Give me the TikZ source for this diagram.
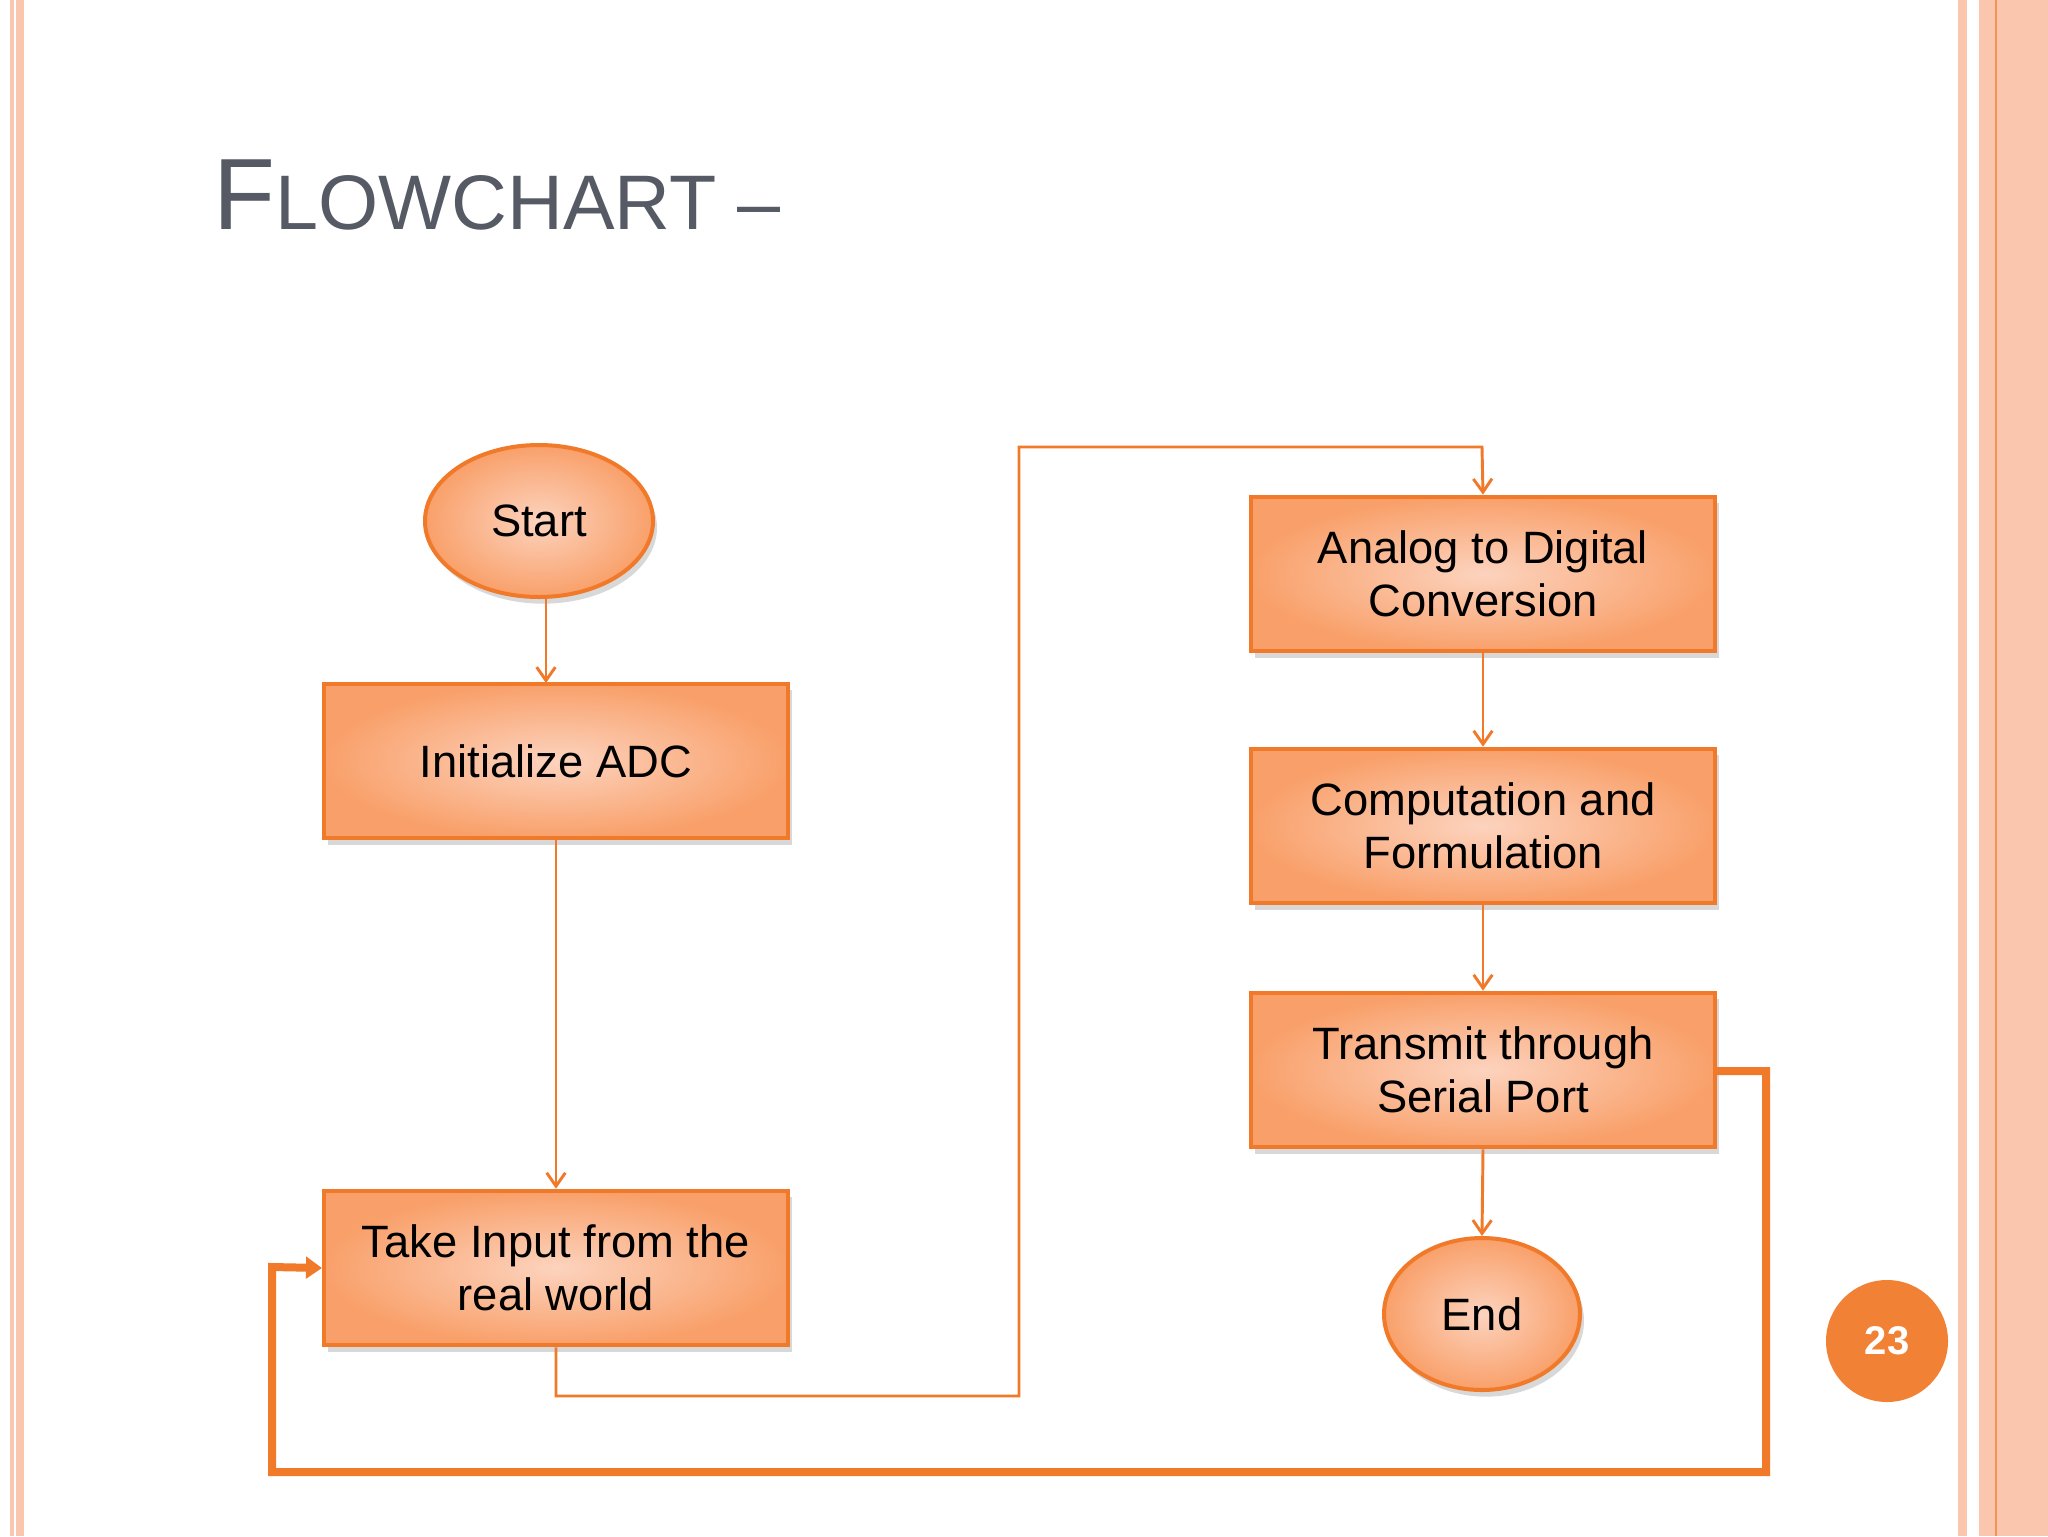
\documentclass[tikz,border=0pt]{standalone}
\usepackage{fontspec}
\setmainfont{Liberation Sans}
\usetikzlibrary{shapes.geometric,arrows.meta,shadows}
\definecolor{org}{HTML}{F07A2A}
\definecolor{lite}{HTML}{FCD3BE}
\definecolor{mid}{HTML}{F9A06A}
\definecolor{peach}{HTML}{FAC7AE}
\definecolor{ttl}{HTML}{555A64}
\tikzset{
 box/.style={draw=org,line width=1.5pt,inner color=lite,outer color=mid,minimum width=174pt,minimum height=58pt,align=center,font=\fontsize{17}{20}\selectfont,drop shadow={shadow xshift=1.5pt,shadow yshift=-2.5pt,fill=black!30}},
 oval/.style={box,ellipse,minimum width=85.5pt,minimum height=57pt},
 conn/.style={draw=org,line width=1.1pt,-{Straight Barb[length=5pt,width=7pt]}},
 thick/.style={draw=org,line width=3pt,-{Triangle[length=6pt,width=8pt]}}
}
\begin{document}
\begin{tikzpicture}[x=0.375pt,y=-0.375pt]
\useasboundingbox (0,0) rectangle (2048,1536);
\fill[white] (0,0) rectangle (2048,1536);
\fill[peach] (10,0) rectangle (14,1536);
\fill[peach] (16,0) rectangle (24,1536);
\fill[peach] (1958,0) rectangle (1967,1536);
\fill[peach] (1979,0) rectangle (2048,1536);
\fill[org!80] (1995,0) rectangle (1997,1536);
\node[anchor=base west,text=ttl,font=\fontsize{38}{40}\selectfont] (title) at (204,229) {F\fontsize{29}{30}\selectfont LOWCHART --};
\node[oval] (start) at (539,521) {Start};
\node[box] (init) at (556,761) {Initialize ADC};
\node[box] (take) at (556,1268) {Take Input from the\\real world};
\node[box] (adc) at (1483,574) {Analog to Digital\\Conversion};
\node[box] (comp) at (1483,826) {Computation and\\Formulation};
\node[box] (tx) at (1483,1070) {Transmit through\\Serial Port};
\node[oval,minimum width=73.5pt] (end) at (1482,1314) {End};
\node[circle,fill=org!95,minimum size=45.75pt,text=white,font=\bfseries\fontsize{15}{16}\selectfont] (pg) at (1887,1341) {23};
\draw[conn] (start.south -| 546,0) -- (546,683);
\draw[conn] (init.south) -- (take.north);
\draw[conn] (take.south) -- (556,1396) -- (1019,1396) -- (1019,447) -- (1482,447) -- (adc.north);
\draw[conn] (adc.south) -- (comp.north);
\draw[conn] (comp.south) -- (tx.north);
\draw[conn] (tx.south) -- (end.north);
\draw[thick] (tx.east |- 0,1071) -- (1766,1071) -- (1766,1472) -- (272,1472) -- (272,1267) -- (take.west);
\end{tikzpicture}
\end{document}
